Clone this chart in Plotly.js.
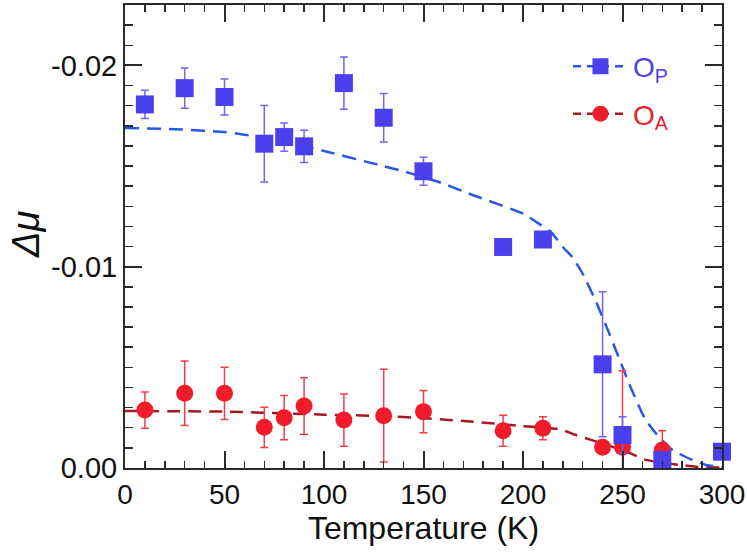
<!DOCTYPE html>
<html>
<head>
<meta charset="utf-8">
<script src="https://cdn.plot.ly/plotly-3.0.1.min.js"></script>
<style>
  html, body { margin: 0; padding: 0; background: #fff; }
  #chart { width: 747px; height: 557px; }
</style>
</head>
<body>
<div id="chart"></div>
<script>
// ---- data (Δμ is negative, axis runs 0 → -0.023 upward) ----
const tempP = [10, 30, 50, 70, 80, 90, 110, 130, 150, 190, 210, 240, 250, 270, 300];
const muP   = [-0.01806, -0.01887, -0.01843, -0.01611, -0.01644, -0.01598, -0.01912, -0.0174,
               -0.01474, -0.01098, -0.01135, -0.00515, -0.00164, -0.0004, -0.00081];
const errP  = [0.0007, 0.001, 0.0009, 0.0019, 0.0007, 0.0008, 0.0013, 0.0012,
               0.0007, 0.0002, 0.0002, 0.0036, 0.0009, 0, 0];

const tempA = [10, 30, 50, 70, 80, 90, 110, 130, 150, 190, 210, 240, 250, 270];
const muA   = [-0.00288, -0.00371, -0.00371, -0.00202, -0.0025, -0.00308, -0.00238, -0.0026,
               -0.0028, -0.00185, -0.00197, -0.00103, -0.00103, -0.00089];
const errA  = [0.0009, 0.0016, 0.0013, 0.001, 0.0011, 0.0014, 0.0013, 0.0023,
               0.00105, 0.00077, 0.00057, 0, 0.0038, 0.00096];

// dashed guide curves
const fitTempP = [0, 25, 50, 75, 100, 123, 141, 159, 175, 200, 207, 214, 220, 225, 230, 236, 242,
                  248, 254, 261, 267, 275, 285, 292, 300];
const fitMuP   = [-0.01689, -0.01683, -0.01669, -0.01632, -0.01575, -0.01517, -0.01471, -0.01416,
                  -0.01355, -0.01264, -0.0122, -0.01173, -0.01098, -0.01045, -0.00965, -0.00842,
                  -0.00701, -0.00552, -0.00403, -0.0025, -0.0017, -0.0009, -0.0004, -0.00015, -0.00005];
const fitTempA = [0, 50, 100, 130, 150, 175, 200, 219, 225, 235, 245, 254, 261, 270, 279, 287, 300];
const fitMuA   = [-0.00283, -0.0028, -0.00265, -0.00258, -0.00247, -0.0023, -0.00208, -0.00192,
                  -0.00169, -0.00137, -0.00105, -0.00073, -0.00043, -0.00025, -0.00015, -0.00006, -0.00002];

const yTickVals = [0, -0.01, -0.02];
const yTickText = ['0.00', '-0.01', '-0.02'];

const BLUE = '#4a40ee', BLUE_LINE = '#2657e6', BLUE_ERR = '#6f66f2';
const RED = '#f01c2a', RED_LINE = '#a51a20', RED_ERR = '#f0404c';
const FONT = 'Liberation Sans, Arial, Helvetica, sans-serif';
const AXIS = '#2b2b2b';

const traces = [
  {
    x: fitTempA, y: fitMuA, type: 'scatter', mode: 'lines', showlegend: false,
    line: { color: RED_LINE, width: 2.5, dash: '13px,8px', shape: 'spline', smoothing: 0.5 }
  },
  {
    x: fitTempP, y: fitMuP, type: 'scatter', mode: 'lines', showlegend: false,
    line: { color: BLUE_LINE, width: 2.5, dash: '14px,8px', shape: 'spline', smoothing: 0.5 }
  },
  {
    x: tempA, y: muA, type: 'scatter', mode: 'markers', showlegend: false, cliponaxis: false,
    marker: { symbol: 'circle', size: 17, color: RED },
    error_y: { type: 'data', array: errA, visible: true, color: RED_ERR, thickness: 1.5, width: 4 }
  },
  {
    x: tempP, y: muP, type: 'scatter', mode: 'markers', showlegend: false, cliponaxis: false,
    marker: { symbol: 'square', size: 18, color: BLUE },
    error_y: { type: 'data', array: errP, visible: true, color: BLUE_ERR, thickness: 1.5, width: 4 }
  },
  // legend keys (no data drawn)
  {
    x: [null], y: [null], type: 'scatter', mode: 'lines+markers', legendgroup: 'p',
    name: '<span style="color:' + BLUE + '">O<sub>P</sub></span>',
    line: { color: BLUE_LINE, width: 2.5, dash: '8px,6px' },
    marker: { symbol: 'square', size: 16, color: BLUE }
  },
  {
    x: [null], y: [null], type: 'scatter', mode: 'lines+markers', legendgroup: 'a',
    name: '<span style="color:' + RED + '">O<sub>A</sub></span>',
    line: { color: RED_LINE, width: 2.5, dash: '8px,6px' },
    marker: { symbol: 'circle', size: 16, color: RED }
  }
];

const layout = {
  width: 747, height: 557,
  margin: { l: 125, r: 25, t: 5, b: 89 },
  paper_bgcolor: '#fff', plot_bgcolor: '#fff',
  font: { family: FONT, color: '#111', size: 28 },
  showlegend: true,
  legend: {
    x: 0.742, y: 0.921, xanchor: 'left', yanchor: 'top',
    bgcolor: 'rgba(0,0,0,0)', itemwidth: 55, tracegroupgap: 8,
    font: { family: FONT, size: 28 }
  },
  xaxis: {
    range: [0, 300], showgrid: false, zeroline: false,
    showline: true, linecolor: AXIS, linewidth: 2, mirror: 'ticks',
    ticks: 'inside', ticklen: 17, tickwidth: 2, tickcolor: AXIS,
    tick0: 0, dtick: 50,
    minor: { tick0: 0, dtick: 10, ticks: 'inside', ticklen: 7, tickwidth: 1.5, tickcolor: AXIS },
    tickfont: { family: FONT, size: 28, color: '#111' },
    title: { text: 'Temperature (K)', standoff: 8, font: { family: FONT, size: 32, color: '#111' } }
  },
  yaxis: {
    range: [0, -0.023], showgrid: false, zeroline: false,
    showline: true, linecolor: AXIS, linewidth: 2, mirror: 'ticks',
    ticks: 'inside', ticklen: 17, tickwidth: 2, tickcolor: AXIS,
    tickmode: 'array', tickvals: yTickVals, ticktext: yTickText,
    minor: { tick0: 0, dtick: 0.001, ticks: 'inside', ticklen: 8, tickwidth: 1.5, tickcolor: AXIS },
    tickfont: { family: FONT, size: 29, color: '#111' }
  },
  // y-axis label placed by hand so it sits where the original has it
  annotations: [{
    text: 'Δμ', xref: 'paper', yref: 'paper', x: -0.166, y: 0.505,
    xanchor: 'center', yanchor: 'middle', textangle: -90, showarrow: false, borderpad: 0,
    font: { family: FONT, size: 38, color: '#111', style: 'italic' }
  }]
};

Plotly.newPlot('chart', traces, layout, { displayModeBar: false, staticPlot: true });
</script>
</body>
</html>
